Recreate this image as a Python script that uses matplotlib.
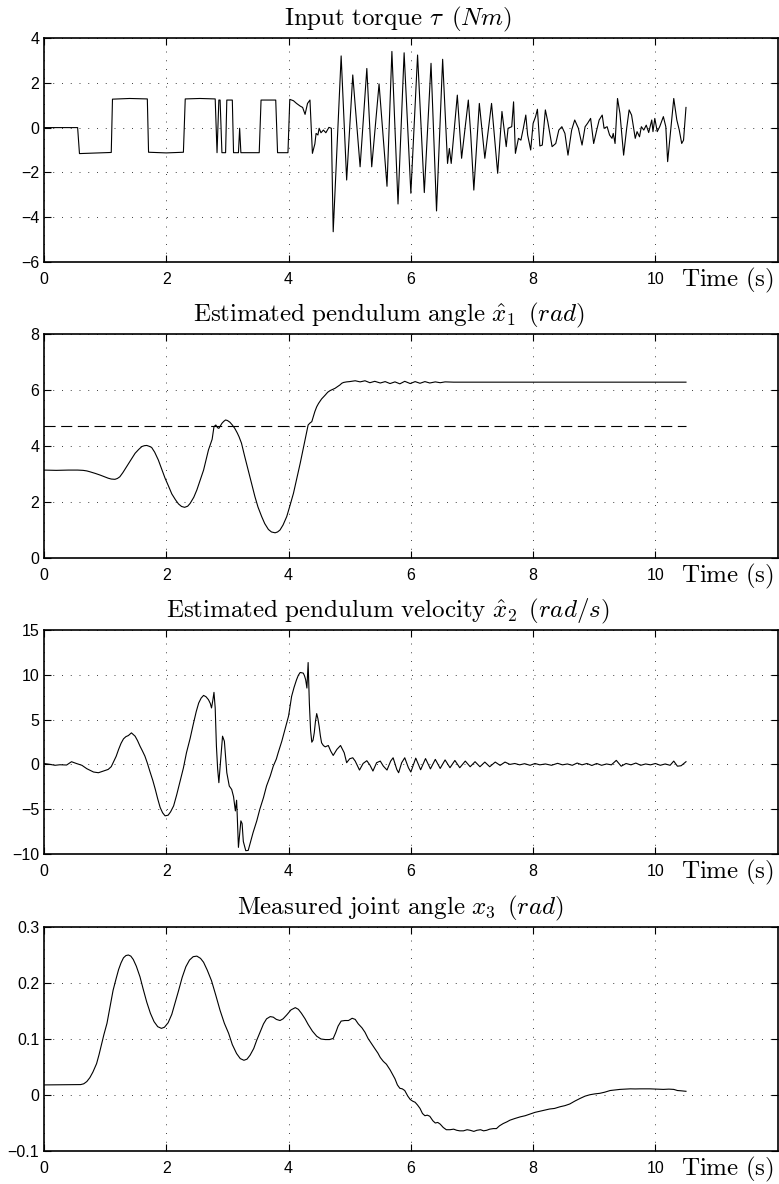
import matplotlib
matplotlib.use("Agg")
import matplotlib.pyplot as plt

plt.rcParams["font.family"] = ["Liberation Sans", "DejaVu Sans"]
plt.rcParams["mathtext.fontset"] = "cm"

# ---------------- data ----------------
torque_t = [0.0, 0.55, 0.58, 1.10, 1.12, 1.40, 1.69, 1.71, 2.00, 2.28, 2.31, 2.55, 2.80,
            2.83, 2.86, 2.88, 2.91, 2.97, 2.99, 3.08, 3.10, 3.18, 3.20, 3.22, 3.52, 3.55,
            3.79, 3.82, 3.99, 4.02, 4.08, 4.13, 4.19, 4.23, 4.27, 4.31, 4.35, 4.39, 4.43,
            4.45, 4.48, 4.50, 4.53, 4.57, 4.61, 4.66, 4.70, 4.73, 4.86, 4.95, 5.05, 5.17,
            5.28, 5.36, 5.48, 5.61, 5.69, 5.79, 5.89, 6.00, 6.11, 6.22, 6.33, 6.42, 6.52,
            6.60, 6.63, 6.66, 6.76, 6.83, 6.94, 6.98, 7.03, 7.12, 7.21, 7.32, 7.42, 7.49,
            7.56, 7.59, 7.65, 7.68, 7.71, 7.76, 7.80, 7.84, 7.88, 7.91, 7.96, 8.00, 8.04,
            8.07, 8.11, 8.15, 8.20, 8.24, 8.31, 8.37, 8.42, 8.47, 8.52, 8.57, 8.63, 8.68,
            8.74, 8.80, 8.85, 8.89, 8.94, 8.99, 9.04, 9.08, 9.13, 9.16, 9.21, 9.25, 9.29,
            9.31, 9.34, 9.38, 9.42, 9.48, 9.53, 9.57, 9.61, 9.67, 9.70, 9.74, 9.77, 9.81,
            9.85, 9.89, 9.94, 9.96, 9.99, 10.03, 10.07, 10.13, 10.17, 10.20, 10.25, 10.30,
            10.35, 10.39, 10.43, 10.46, 10.50]
torque_v = [0.0, 0.0, -1.16, -1.11, 1.27, 1.30, 1.28, -1.10, -1.13, -1.10, 1.28, 1.30, 1.28,
            -1.12, 1.23, 1.23, -1.12, -1.12, 1.23, 1.23, -1.12, -1.12, -0.03, -1.12, -1.12, 1.23,
            1.23, -1.12, -1.12, 1.26, 1.20, 1.08, 0.96, 0.90, 0.59, 1.08, 1.23, -1.15, -0.73,
            -0.26, -0.33, -0.03, -0.23, -0.11, -0.23, 0.01, -0.03, -4.65, 3.20, -2.34, 2.35, -1.75,
            2.64, -1.75, 1.95, -2.62, 3.40, -3.41, 3.34, -2.93, 3.24, -2.90, 2.87, -3.72, 3.05,
            -1.60, -0.93, -1.60, 1.45, -1.37, 1.23, -0.33, -2.79, 1.08, -1.37, 1.08, -2.04, 0.72,
            -0.85, -0.03, 0.04, 1.15, -1.15, -0.48, -0.56, -0.03, 0.56, -0.33, -1.00, 0.19, 0.49,
            0.82, -0.82, -0.78, 0.79, 0.26, -0.85, -0.71, -0.11, 0.04, -0.26, -1.23, -0.11, 0.34,
            -0.03, -0.78, 0.04, 0.19, 0.41, -0.71, -0.11, 0.34, 0.56, -0.03, 0.04, -0.33, -0.48,
            -0.26, -0.71, 1.30, 0.63, -1.23, -0.03, 0.79, 0.56, -0.48, -0.18, -0.41, 0.04, -0.11,
            0.11, -0.22, 0.34, -0.18, 0.41, -0.18, 0.04, 0.49, 0.04, -1.52, -0.11, 1.30,
            0.34, -0.11, -0.71, -0.56, 0.90]

angle_t = [0.0, 0.2, 0.4, 0.55, 0.64, 0.70, 0.75, 0.84, 0.92, 0.99, 1.05, 1.10, 1.16, 1.20,
           1.24, 1.29, 1.35, 1.42, 1.49, 1.55, 1.60, 1.64, 1.68, 1.72, 1.76, 1.81, 1.87, 1.93,
           1.98, 2.04, 2.09, 2.15, 2.20, 2.25, 2.30, 2.35, 2.39, 2.45, 2.50, 2.55, 2.61, 2.65,
           2.69, 2.72, 2.75, 2.78, 2.81, 2.84, 2.86, 2.88, 2.91, 2.94, 2.97, 3.00, 3.04, 3.08,
           3.12, 3.16, 3.19, 3.23, 3.28, 3.34, 3.40, 3.45, 3.50, 3.56, 3.61, 3.67, 3.72, 3.78,
           3.82, 3.86, 3.91, 3.97, 4.02, 4.08, 4.13, 4.19, 4.24, 4.28, 4.32, 4.35, 4.38, 4.41,
           4.43, 4.46, 4.49, 4.54, 4.60, 4.64, 4.68, 4.72, 4.76, 4.80, 4.84, 4.87, 4.90, 4.95,
           5.00, 5.09, 5.17, 5.25, 5.33, 5.41, 5.50, 5.58, 5.66, 5.74, 5.82, 5.90, 5.99, 6.07,
           6.15, 6.23, 6.31, 6.40, 6.48, 6.56, 6.70, 6.90, 7.20, 7.60, 8.00, 8.50, 9.00, 9.50,
           10.00, 10.50]
angle_v = [3.14, 3.13, 3.14, 3.14, 3.13, 3.11, 3.08, 3.02, 2.96, 2.90, 2.85, 2.82, 2.81, 2.84,
           2.90, 3.05, 3.26, 3.50, 3.74, 3.88, 3.98, 4.01, 4.02, 3.99, 3.95, 3.78, 3.50, 3.15,
           2.85, 2.55, 2.29, 2.08, 1.93, 1.84, 1.81, 1.85, 1.95, 2.17, 2.43, 2.75, 3.14, 3.50,
           3.86, 4.05, 4.24, 4.69, 4.75, 4.65, 4.63, 4.70, 4.81, 4.88, 4.93, 4.91, 4.85, 4.75,
           4.63, 4.47, 4.33, 4.10, 3.65, 3.14, 2.62, 2.19, 1.82, 1.48, 1.23, 1.02, 0.93, 0.90,
           0.93, 1.00, 1.18, 1.48, 1.85, 2.31, 2.80, 3.38, 3.90, 4.33, 4.75, 4.82, 4.87, 5.08,
           5.23, 5.40, 5.52, 5.68, 5.82, 5.92, 5.98, 6.02, 6.06, 6.12, 6.18, 6.24, 6.27, 6.29,
           6.30, 6.33, 6.29, 6.33, 6.26, 6.31, 6.25, 6.30, 6.23, 6.29, 6.22, 6.31, 6.23, 6.30,
           6.24, 6.30, 6.25, 6.29, 6.26, 6.29, 6.28, 6.28, 6.28, 6.28, 6.28, 6.28, 6.28, 6.28,
           6.28, 6.28]
angle_switch = 4.71

velocity_t = [0.0, 0.10, 0.18, 0.26, 0.37, 0.45, 0.53, 0.62, 0.70, 0.81, 0.89, 0.97, 1.05,
              1.10, 1.13, 1.18, 1.22, 1.26, 1.30, 1.34, 1.38, 1.43, 1.49, 1.53, 1.57, 1.61,
              1.65, 1.69, 1.73, 1.78, 1.82, 1.86, 1.90, 1.94, 1.98, 2.03, 2.07, 2.12, 2.17,
              2.22, 2.28, 2.33, 2.39, 2.44, 2.49, 2.53, 2.57, 2.61, 2.65, 2.69, 2.72, 2.74,
              2.76, 2.78, 2.80, 2.82, 2.84, 2.86, 2.89, 2.92, 2.95, 2.99, 3.03, 3.07, 3.10,
              3.13, 3.15, 3.16, 3.18, 3.22, 3.24, 3.26, 3.30, 3.34, 3.38, 3.42, 3.48, 3.53,
              3.59, 3.64, 3.70, 3.75, 3.80, 3.83, 3.89, 3.94, 4.00, 4.05, 4.09, 4.13, 4.16,
              4.19, 4.24, 4.26, 4.28, 4.30, 4.32, 4.34, 4.36, 4.38, 4.40, 4.42, 4.44, 4.46,
              4.48, 4.50, 4.52, 4.54, 4.57, 4.60, 4.65, 4.69, 4.73, 4.79, 4.85, 4.91, 4.95,
              5.00, 5.05, 5.09, 5.16, 5.22, 5.28, 5.33, 5.38, 5.44, 5.50, 5.55, 5.61, 5.67,
              5.71, 5.77, 5.80, 5.85, 5.90, 5.96, 6.00, 6.08, 6.16, 6.24, 6.32, 6.40, 6.48,
              6.56, 6.64, 6.72, 6.80, 6.89, 6.97, 7.05, 7.13, 7.21, 7.29, 7.38, 7.46, 7.54,
              7.62, 7.70, 7.78, 7.86, 7.95, 8.03, 8.11, 8.20, 8.30, 8.40, 8.48, 8.56, 8.64,
              8.72, 8.80, 8.88, 8.96, 9.04, 9.12, 9.20, 9.28, 9.36, 9.44, 9.52, 9.60, 9.68,
              9.76, 9.84, 9.92, 10.00, 10.08, 10.16, 10.24, 10.30, 10.36, 10.42, 10.50]
velocity_v = [0.10, 0.0, -0.10, -0.04, -0.07, 0.30, 0.10, -0.10, -0.48, -0.85, -0.93, -0.74, -0.56,
              -0.25, 0.19, 0.90, 1.67, 2.35, 2.85, 3.10, 3.22, 3.52, 3.15, 2.65, 2.04, 1.50,
              0.93, 0.15, -0.74, -1.80, -2.78, -3.85, -4.81, -5.40, -5.74, -5.67, -5.30, -4.63, -3.40,
              -2.04, -0.40, 1.30, 2.90, 4.44, 5.90, 6.85, 7.40, 7.70, 7.55, 7.22, 6.80, 6.30,
              7.10, 8.04, 6.30, 2.04, -0.50, -2.04, 0.60, 3.15, 2.59, -0.93, -2.41, -2.80, -3.60,
              -5.19, -4.00, -5.60, -9.26, -6.30, -6.60, -8.60, -9.63, -9.60, -8.60, -7.60, -6.30, -5.00,
              -3.70, -2.40, -1.30, -0.19, 0.60, 1.30, 2.60, 3.89, 5.40, 7.60, 8.60, 9.44, 9.95,
              10.26, 10.19, 9.90, 9.44, 8.52, 11.37, 6.85, 3.80, 2.48, 2.70, 3.52, 4.80, 5.67,
              5.10, 4.26, 3.20, 2.41, 2.10, 1.96, 2.11, 1.48, 1.00, 1.67, 2.11, 1.30, 0.19,
              0.63, 0.74, 0.37, -0.63, 0.11, 0.41, -0.07, -0.74, 0.19, 0.37, -0.19, -0.63, 0.37,
              0.74, -0.56, -0.93, 0.19, 0.74, -0.37, -0.85, 0.70, -0.60, 0.65, -0.50, 0.56, -0.45,
              0.50, -0.37, 0.44, -0.37, 0.37, -0.26, 0.30, -0.26, 0.26, -0.26, 0.26, -0.11, 0.26,
              0.0, 0.10, -0.05, 0.08, -0.10, 0.10, -0.05, 0.05, -0.10, 0.12, -0.05, 0.05, -0.10,
              0.15, -0.05, 0.10, -0.12, 0.10, -0.10, 0.05, -0.05, 0.45, -0.20, 0.10, -0.05, 0.15,
              -0.10, 0.05, -0.05, 0.10, -0.10, 0.05, -0.10, 0.37, -0.20, -0.15, 0.30]

joint_t = [0.0, 0.60, 0.65, 0.70, 0.75, 0.80, 0.86, 0.90, 0.94, 0.98, 1.03, 1.08, 1.13, 1.18,
           1.22, 1.26, 1.30, 1.34, 1.38, 1.42, 1.46, 1.51, 1.57, 1.62, 1.68, 1.74, 1.80, 1.86,
           1.92, 1.97, 2.03, 2.09, 2.14, 2.20, 2.26, 2.32, 2.38, 2.44, 2.50, 2.56, 2.61, 2.67,
           2.74, 2.81, 2.88, 2.95, 3.02, 3.08, 3.15, 3.21, 3.27, 3.32, 3.37, 3.43, 3.48, 3.54,
           3.59, 3.64, 3.70, 3.75, 3.80, 3.86, 3.91, 3.97, 4.04, 4.11, 4.16, 4.21, 4.27, 4.32,
           4.39, 4.46, 4.53, 4.60, 4.67, 4.73, 4.77, 4.81, 4.86, 4.92, 4.98, 5.04, 5.09, 5.14,
           5.20, 5.25, 5.30, 5.36, 5.41, 5.46, 5.50, 5.55, 5.60, 5.66, 5.70, 5.74, 5.78, 5.82,
           5.86, 5.90, 5.95, 5.99, 6.03, 6.07, 6.11, 6.15, 6.19, 6.23, 6.27, 6.31, 6.36, 6.40,
           6.44, 6.48, 6.53, 6.58, 6.64, 6.70, 6.75, 6.80, 6.86, 6.92, 6.97, 7.03, 7.08, 7.14,
           7.19, 7.24, 7.29, 7.35, 7.40, 7.45, 7.51, 7.57, 7.62, 7.70, 7.79, 7.87, 7.95, 8.03,
           8.11, 8.19, 8.27, 8.35, 8.44, 8.52, 8.60, 8.68, 8.77, 8.85, 8.93, 9.01, 9.09, 9.17,
           9.26, 9.34, 9.42, 9.50, 9.59, 9.67, 9.75, 9.83, 9.91, 10.02, 10.13, 10.22, 10.30,
           10.36, 10.42, 10.50]
joint_v = [0.018, 0.0186, 0.020, 0.024, 0.031, 0.041, 0.056, 0.072, 0.090, 0.108, 0.128, 0.158,
           0.187, 0.208, 0.224, 0.236, 0.245, 0.249, 0.250, 0.248, 0.242, 0.230, 0.211, 0.190,
           0.166, 0.146, 0.131, 0.122, 0.119, 0.121, 0.129, 0.144, 0.163, 0.186, 0.210, 0.229,
           0.241, 0.247, 0.248, 0.244, 0.237, 0.223, 0.204, 0.178, 0.151, 0.128, 0.110, 0.090,
           0.074, 0.065, 0.062, 0.064, 0.071, 0.083, 0.098, 0.114, 0.127, 0.136, 0.140, 0.139,
           0.135, 0.133, 0.136, 0.143, 0.152, 0.156, 0.153, 0.146, 0.136, 0.126, 0.114, 0.105,
           0.100, 0.099, 0.099, 0.101, 0.111, 0.123, 0.132, 0.133, 0.133, 0.137, 0.135, 0.127,
           0.120, 0.112, 0.101, 0.091, 0.083, 0.075, 0.067, 0.060, 0.055, 0.045, 0.037, 0.029,
           0.018, 0.012, 0.011, 0.008, -0.002, -0.008, -0.011, -0.013, -0.018, -0.024, -0.033,
           -0.037, -0.036, -0.038, -0.046, -0.050, -0.049, -0.052, -0.058, -0.062, -0.062, -0.061,
           -0.063, -0.064, -0.064, -0.062, -0.063, -0.065, -0.063, -0.062, -0.064, -0.063, -0.061,
           -0.060, -0.060, -0.055, -0.051, -0.048, -0.045, -0.042, -0.039, -0.037, -0.034, -0.031,
           -0.029, -0.027, -0.025, -0.024, -0.021, -0.019, -0.016, -0.011, -0.006, -0.002, 0.0005,
           0.002, 0.003, 0.005, 0.008, 0.009, 0.010, 0.0105, 0.011, 0.0108, 0.011, 0.011, 0.011,
           0.0105, 0.010, 0.0105, 0.010, 0.008, 0.0075, 0.0066]

x_ticks = [0, 2, 4, 6, 8, 10]
x_ticklabels = ["0", "2", "4", "6", "8", "10"]

panels = [
    dict(t=torque_t, v=torque_v, ylim=(-6, 4), yticks=[-6, -4, -2, 0, 2, 4],
         ylabels=["\u22126", "\u22124", "\u22122", "0", "2", "4"],
         title=r"$\mathrm{Input\ torque}\ \tau\ \,(Nm)$", tx=0.4825),
    dict(t=angle_t, v=angle_v, ylim=(0, 8), yticks=[0, 2, 4, 6, 8],
         ylabels=["0", "2", "4", "6", "8"],
         title=r"$\mathrm{Estimated\ pendulum\ angle}\ \hat{x}_1\ \,(rad)$", tx=0.470),
    dict(t=velocity_t, v=velocity_v, ylim=(-10, 15), yticks=[-10, -5, 0, 5, 10, 15],
         ylabels=["\u221210", "\u22125", "0", "5", "10", "15"],
         title=r"$\mathrm{Estimated\ pendulum\ velocity}\ \hat{x}_2\ \,(rad/s)$", tx=0.469),
    dict(t=joint_t, v=joint_v, ylim=(-0.1, 0.3), yticks=[-0.1, 0, 0.1, 0.2, 0.3],
         ylabels=["\u22120.1", "0", "0.1", "0.2", "0.3"],
         title=r"$\mathrm{Measured\ joint\ angle}\ x_3\ \,(rad)$", tx=0.485),
]

# ---------------- layout ----------------
W, H = 779, 1184
fig = plt.figure(figsize=(W / 100, H / 100), dpi=100)
left, width = 44 / W, 733.7 / W
bottoms_px = [262, 558, 854, 1151]
height = 224 / H

for i, p in enumerate(panels):
    ax = fig.add_axes([left, 1 - bottoms_px[i] / H, width, height])
    ax.plot(p["t"], p["v"], color="black", lw=0.8)
    if i == 1:
        ax.plot([angle_t[0], angle_t[-1]], [angle_switch, angle_switch],
                color="black", lw=0.8, linestyle=(0, (10, 5)))
    ax.set_xlim(0, 12)
    ax.set_ylim(*p["ylim"])
    ax.set_xticks(x_ticks)
    xl = ax.set_xticklabels(x_ticklabels)
    for lbl in xl:
        if lbl.get_text() == "10":
            lbl.set_fontsize(9)
    ax.set_yticks(p["yticks"])
    ax.set_yticklabels(p["ylabels"])
    ax.tick_params(direction="in", top=True, right=True, length=5, width=0.8,
                   labelsize=11.5, color="black")
    ax.tick_params(axis="x", pad=7.5)
    ax.tick_params(axis="y", pad=3.5)
    ax.grid(True, linestyle=(0, (1, 8)), lw=0.7, color="0.25")
    for s in ax.spines.values():
        s.set_linewidth(1.2)
    ax.annotate(p["title"], xy=(p["tx"], 1), xycoords="axes fraction",
                xytext=(0, 9), textcoords="offset points",
                ha="center", va="baseline", fontsize=18)
    ax.annotate(r"$\mathrm{Time\ (s)}$", xy=(0.995, 0), xycoords="axes fraction",
                xytext=(0, -17.6), textcoords="offset points",
                ha="right", va="baseline", fontsize=18)

fig.savefig("out.png", dpi=100)
